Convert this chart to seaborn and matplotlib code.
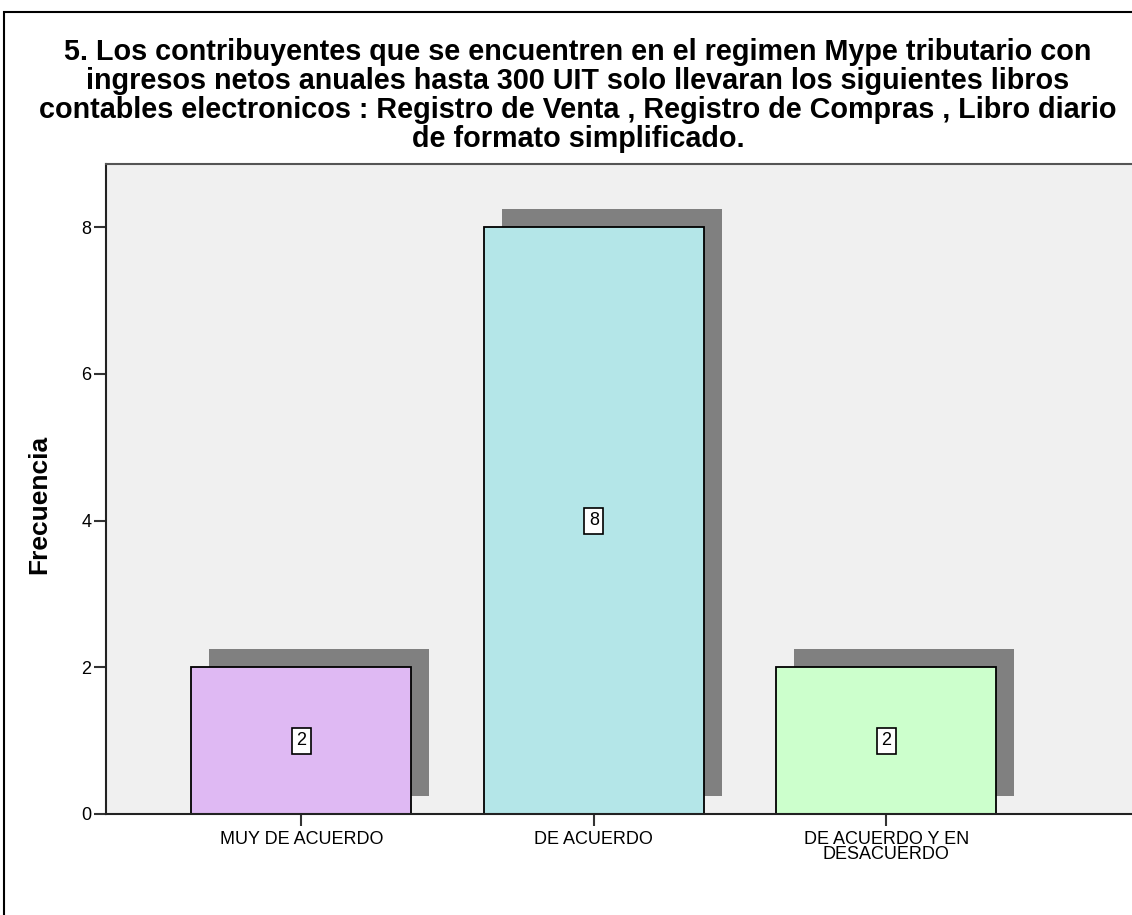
import matplotlib
matplotlib.use("Agg")
import matplotlib.pyplot as plt
import matplotlib.transforms as mtransforms
from matplotlib.patches import Rectangle
import seaborn as sns
import pandas as pd

# Datos del gráfico
categorias = ['MUY DE ACUERDO', 'DE ACUERDO', 'DE ACUERDO Y EN\nDESACUERDO']
frecuencias = [2, 8, 2]
colores = ['#DFB9F3', '#B4E6E8', '#CCFFCC']
titulo = ("5. Los contribuyentes que se encuentren en el regimen Mype tributario con\n"
          "ingresos netos anuales hasta 300 UIT solo llevaran los siguientes libros\n"
          "contables electronicos : Registro de Venta , Registro de Compras , Libro diario\n"
          "de formato simplificado.")

df = pd.DataFrame({'categoria': categorias, 'frecuencia': frecuencias})

sns.set_style("white")
plt.rcParams['font.family'] = ['Liberation Sans', 'DejaVu Sans']
plt.rcParams['text.color'] = 'black'
plt.rcParams['axes.labelcolor'] = 'black'
plt.rcParams['xtick.labelcolor'] = 'black'
plt.rcParams['ytick.labelcolor'] = 'black'

fig = plt.figure(figsize=(11.32, 9.15), dpi=100)
ax = fig.add_axes([106 / 1132, 101 / 915, 1026 / 1132, 650 / 915])
ax.set_facecolor('#F0F0F0')

# Sombra de las barras (desplazada hacia arriba y a la derecha)
sns.barplot(data=df, x='categoria', y='frecuencia', color='#808080', width=0.753,
            saturation=1, ax=ax, zorder=1)
offset = mtransforms.ScaledTranslation(0.18, 0.18, fig.dpi_scale_trans)
for p in ax.patches:
    p.set_transform(ax.transData + offset)
    p.set_edgecolor('none')

# Barras principales
sns.barplot(data=df, x='categoria', y='frecuencia', hue='categoria', palette=colores,
            width=0.753, saturation=1, edgecolor='black', linewidth=1.3,
            legend=False, ax=ax, zorder=2)

# Etiquetas de valor en el centro de cada barra
for i, v in enumerate(frecuencias):
    ax.text(i, v / 2, str(v), ha='center', va='center', fontsize=13, zorder=3,
            bbox=dict(boxstyle='square,pad=0.25', facecolor='white', edgecolor='black', linewidth=1.2))

ax.set_xlim(-0.668, 2.84)
ax.set_ylim(0, 8.86)
ax.set_yticks([0, 2, 4, 6, 8])
ax.set_xlabel('')
ax.set_ylabel('Frecuencia', fontsize=19, fontweight='bold')
ax.yaxis.set_label_coords(-0.0536, 0.477)
ax.tick_params(axis='both', direction='out', length=8.5, width=1.5, color='#333333',
               labelsize=13, labelcolor='black', left=True, bottom=True, pad=2)
ax.tick_params(axis='x', pad=4)
for lbl in ax.get_xticklabels():
    lbl.set_linespacing(0.85)

for s in ['left', 'bottom']:
    ax.spines[s].set_color('#222222')
    ax.spines[s].set_linewidth(1.5)
ax.spines['top'].set_color('#555555')
ax.spines['top'].set_linewidth(1.5)
ax.spines['right'].set_visible(False)

# Título
fig.text(578 / 1132, 1 - 38 / 915, titulo, ha='center', va='top', fontsize=20.7,
         fontweight='bold', linespacing=1.05, color='black')

# Marco exterior
fig.patches.append(Rectangle((4 / 1132, -0.01), 1.1, 1 - 12 / 915 + 0.01, transform=fig.transFigure,
                             fill=False, edgecolor='black', linewidth=1.5))

fig.savefig('out.png', dpi=100, facecolor='white')
